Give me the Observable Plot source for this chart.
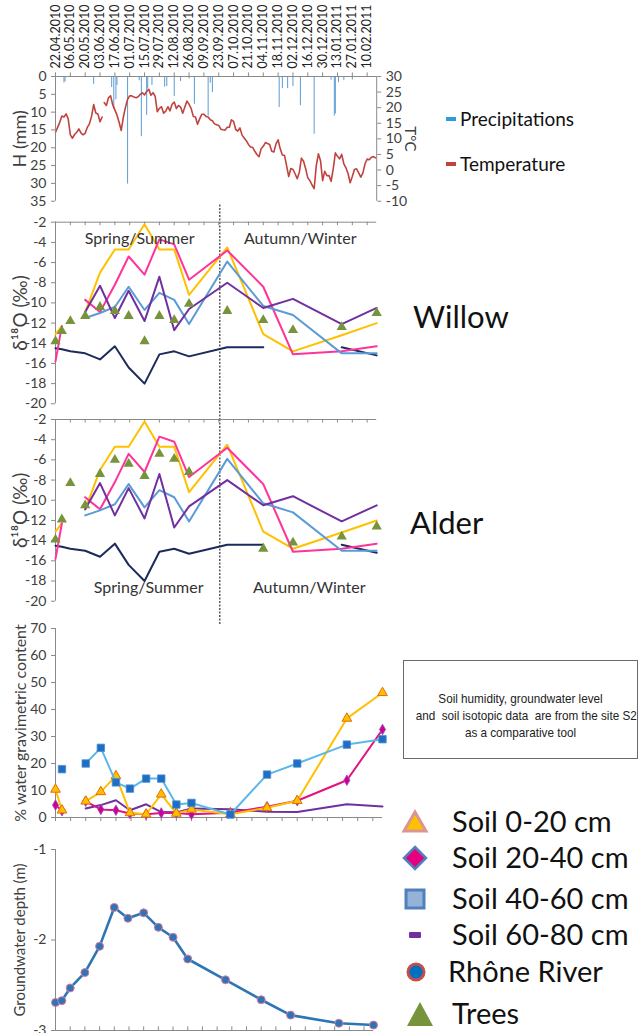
<!DOCTYPE html>
<html><head><meta charset="utf-8">
<script src="https://cdn.jsdelivr.net/npm/d3@7"></script>
<script src="https://cdn.jsdelivr.net/npm/@observablehq/plot@0.6"></script>
<style>
html,body{margin:0;padding:0;background:#fff;}
#wrap{position:relative;width:644px;height:1033px;overflow:hidden;background:#fff;font-family:Lato,"Open Sans",sans-serif;color:#111;}
#wrap > svg{position:absolute;left:0;margin:0;}
.lab{position:absolute;white-space:nowrap;line-height:1;}
.box{position:absolute;border:1px solid #6a6a6a;box-sizing:border-box;text-align:center;
  font-family:"Liberation Sans",Arial,sans-serif;font-size:13px;line-height:17px;color:#222;}
.box span{display:block;white-space:pre;transform:scaleX(0.9);transform-origin:50% 50%;}
</style></head><body><div id="wrap"></div>
<script>
// ---------------- DATA ----------------
const axisStart = "2010-04-22";
const axisEnd = "2011-02-19";
const tickLabels = ["22.04.2010","06.05.2010","20.05.2010","03.06.2010","17.06.2010","01.07.2010","15.07.2010",
  "29.07.2010","12.08.2010","26.08.2010","09.09.2010","23.09.2010","07.10.2010","21.10.2010","04.11.2010",
  "18.11.2010","02.12.2010","16.12.2010","30.12.2010","13.01.2011","27.01.2011","10.02.2011"];
const seasonDivide = "2010-09-24";
const seasonNames = ["Spring/Summer", "Autumn/Winter"];

// precipitation (days after 22.04.2010, mm)
const precipDay = [8,9,36,53,55,57,58,68,79,81,86,87,91,103,105,112,118,126,131,144,146,148,211,214,219,224,231,244,260,263,264,267,272,280];
const precipMm  = [1.8,1.5,2.2,3.1,9.2,6.5,2.5,30.2,1.2,16.9,10.9,3.5,2.5,3.0,2.8,5.6,1.4,0.7,7.8,11.1,1.9,4.5,8.7,3.4,3.4,2.8,8.2,16.2,1.0,11.1,10.5,1.7,1.1,1.0];

// temperature (°C), one value every 2 days, two recorded stretches
const tempStepDays = 2;
const tempStartA = "2010-04-22";
const tempA = [12.1,13.7,15.3,17.3,17.0,18.0,16.4,11.3,10.2,11.4,12.1,13.2,11.9,11.3,11.8,13.7,14.8,17.2,21.0,18.3,18.0,15.5,17.0];
const tempStartB = "2010-06-07";
const tempB = [21.6,20.7,23.2,23.8,20.9,19.3,17.6,15.3,12.7,17.0,20.1,22.7,23.8,23.8,23.4,23.2,23.5,24.3,24.8,24.1,
  25.2,25.9,24.0,24.8,23.7,18.7,19.8,20.3,18.2,18.9,20.3,19.0,21.1,21.8,19.7,20.7,20.2,18.2,20.2,22.1,
  21.1,19.7,17.2,17.0,14.7,16.4,17.9,17.9,17.2,17.0,16.1,15.8,14.8,14.5,14.3,13.1,12.9,12.8,13.7,13.7,
  16.1,15.6,13.0,12.5,13.5,11.2,10.3,9.4,8.2,7.4,7.3,6.0,5.0,4.3,6.8,7.6,8.8,8.5,8.2,6.0,
  5.8,8.4,9.7,6.8,4.8,4.7,1.4,-2.1,0.5,0.2,-1.2,-2.8,-0.7,3.8,2.8,0.4,-2.5,-3.4,-4.8,-6.0,
  1.4,5.2,3.0,-3.4,-0.4,-1.8,-1.8,-3.6,0.4,5.5,4.4,3.6,5.0,2.0,0.7,-1.2,-4.1,-2.1,0.2,0.4,
  -0.9,-2.3,-0.9,2.0,3.5,3.3,4.1,4.3,3.9];

// sampling campaigns
const sampleDates = ["2010-04-22","2010-04-28","2010-05-06","2010-05-20","2010-06-03","2010-06-17","2010-06-30","2010-07-15",
  "2010-07-29","2010-08-12","2010-08-26","2010-10-01","2010-11-04","2010-12-02","2011-01-17","2011-02-19"];
// δ18O (‰)
const willowTrees = [-13.8,-12.8,-11.8,-11.3,-10.4,-10.8,-11.3,-13.8,-11.3,-11.7,-10.1,-10.8,-11.7,-12.7,-12.4,-11.0];
const alderTrees  = [-13.9,-11.9,-8.3,-10.5,-7.4,-6.0,-6.4,-7.6,-5.4,-5.9,-7.2,null,-14.8,-14.2,-13.6,-12.6];
const iso0_20  = [-13.1,-12.3,null,-10.9,-7.0,-4.7,-4.7,-2.2,-4.7,-4.7,-9.2,-4.5,-13.1,-14.8,-13.2,-12.0];
const iso20_40 = [-15.8,-12.3,null,-9.7,-10.9,-8.2,-5.4,-7.2,-3.7,-4.2,-7.7,-4.8,-8.4,-15.1,-14.8,-14.3];
const iso40_60 = [null,null,null,-11.5,-11.0,-10.4,-8.4,-10.7,-9.0,-9.7,-12.1,-5.9,-10.3,-11.2,-15.0,-15.0];
const iso60_80 = [null,null,null,-10.9,-8.3,-11.5,-8.8,-11.8,-7.4,-12.7,-10.6,-8.0,-10.5,-9.6,-12.1,-10.5];
const isoRhone = [-14.5,-14.6,-14.8,-15.0,-15.6,-14.3,-16.4,-18.0,-15.1,-14.8,-15.3,-14.4,-14.4,null,-14.4,-15.2];
// % water gravimetric content
const water0_20  = [10.4,2.7,null,6.0,9.5,15.4,1.7,1.2,8.6,1.5,3.0,1.2,3.6,6.2,36.7,46.2];
const water20_40 = [4.6,2.5,null,6.0,3.0,2.7,1.5,1.2,1.7,1.7,1.2,1.8,4.0,6.2,13.8,32.6];
const water40_60 = [null,17.9,null,20.0,25.8,13.0,10.7,14.4,14.4,4.8,5.4,1.1,15.9,20.0,27.0,29.0];
const water60_80 = [null,null,null,3.3,4.6,6.4,2.7,4.9,2.0,1.9,3.3,3.1,2.1,2.0,4.9,4.1];
// groundwater depth (m)
const groundwater = [-2.69,-2.67,-2.53,-2.36,-2.07,-1.64,-1.76,-1.70,-1.86,-1.97,-2.21,-2.44,-2.66,-2.83,-2.92,-2.94];

const legendLabels = ["Soil 0-20 cm","Soil 20-40 cm","Soil 40-60 cm","Soil 60-80 cm","Rhône River","Trees"];
const topLegendLabels = ["Precipitations","Temperature"];
const noteLines = ["Soil humidity, groundwater level","and  soil isotopic data  are from the site S2","as a comparative tool"];
const speciesLabels = ["Willow","Alder"];

// ---------------- BUILD ----------------
const parseISO = d3.utcParse("%Y-%m-%d");
const parseTick = d3.utcParse("%d.%m.%Y");
const fmtTick = d3.utcFormat("%d.%m.%Y");
const t0 = parseISO(axisStart), t1 = parseISO(axisEnd);
const ticks = tickLabels.map(parseTick);
const sDates = sampleDates.map(parseISO);
const divide = parseISO(seasonDivide);
const mid = (a, b) => new Date((+a + +b) / 2);
const tScale = d3.scaleLinear().domain([-10, 30]).range([35, 0]);

const precip = precipDay.map((d, i) => ({date: d3.utcDay.offset(t0, d), mm: precipMm[i]}));
const temp = [
  ...tempA.map((v, i) => ({date: d3.utcDay.offset(parseISO(tempStartA), i * tempStepDays), mm: tScale(v), seg: "a"})),
  ...tempB.map((v, i) => ({date: d3.utcDay.offset(parseISO(tempStartB), i * tempStepDays), mm: tScale(v), seg: "b"}))
];

const AX = "#8a8a8a", TXT = "#404040";
const wrap = document.getElementById("wrap");
function place(svg, top) { svg.style.top = top + "px"; wrap.appendChild(svg); }
const common = (h, mt, mb, xEnd) => ({
  width: 400, height: h, marginLeft: 55, marginRight: 400 - xEnd, marginTop: mt, marginBottom: mb,
  style: {background: "transparent", fontFamily: "Lato, sans-serif", fontSize: "13px", color: TXT, overflow: "visible"}
});
const xOpt = {type: "utc", domain: [t0, t1], axis: null};
const plain = d => String(d);
const yAxis = (vals, extra = {}) => Plot.axisY(vals, {anchor: "left", tickSize: 4, tickFormat: plain, stroke: AX, fill: TXT, label: null, fontSize: 14, ...extra});
const ylab = (t, size) => Plot.text([t], {text: d => d, frameAnchor: "left", dx: -35, rotate: -90, textAnchor: "middle", fontSize: size, fill: TXT});
const sline = (vals, color, w = 2) => Plot.line(vals, {x: (d, i) => sDates[i], y: d => d, stroke: color, strokeWidth: w});

// Panel 1: precipitation & temperature
place(Plot.plot({
  ...common(212, 76, 11.3, 376.2),
  x: xOpt,
  y: {domain: [0, 35], reverse: true},
  marks: [
    Plot.ruleX(precip, {x: "date", y1: 0, y2: "mm", stroke: "#5b9bd5", strokeWidth: 1}),
    Plot.line(temp, {x: "date", y: "mm", z: "seg", stroke: "#c0433f", strokeWidth: 1.6}),
    Plot.ruleY([0], {stroke: AX}),
    Plot.ruleX(ticks, {x: d => d, y1: 0, y2: -1, stroke: AX}),
    Plot.ruleX([t0], {stroke: AX}),
    Plot.ruleX([t1], {stroke: AX}),
    yAxis(d3.range(0, 36, 5)),
    Plot.axisY(d3.range(-10, 31, 5).map(tScale), {anchor: "right", tickSize: 4, tickFormat: d => String(Math.round(tScale.invert(d))), stroke: AX, fill: TXT, label: null, fontSize: 14}),
    Plot.text(ticks, {x: d => d, text: d => fmtTick(d), frameAnchor: "top", dy: -8, rotate: -90, textAnchor: "start", lineAnchor: "middle", fontSize: 12.5, fill: "#222"}),
    ylab("H (mm)", 18),
    Plot.text(["T°C"], {text: d => d, frameAnchor: "right", dx: 33, rotate: 90, textAnchor: "middle", fontSize: 15, fill: TXT})
  ]
}), 0);

// Panels 2 & 3: δ18O
function isoPanel(trees, h, mt, mb, r1, r2, seasonAnchor, seasonDy, seasonDx) {
  return Plot.plot({
    ...common(h, mt, mb, 376.2),
    x: xOpt,
    y: {domain: [-20, -2]},
    marks: [
      Plot.ruleX([divide], {y1: r1, y2: r2, stroke: "#333", strokeWidth: 1.2, strokeDasharray: "2,1.5"}),
      Plot.ruleY([-2], {stroke: AX}),
      Plot.ruleX(ticks, {x: d => d, y1: -2, y2: -2.35, stroke: AX}),
      Plot.ruleX([t0], {stroke: AX}),
      yAxis(d3.range(-20, -1, 2)),
      sline(isoRhone, "#1c2a5c"),
      sline(iso0_20, "#ffc000"),
      sline(iso20_40, "#ff3399"),
      sline(iso40_60, "#5b9bd5"),
      sline(iso60_80, "#7030a0"),
      Plot.dot(trees, {x: (d, i) => sDates[i], y: d => d, symbol: "triangle", r: 3.8, fill: "#77933c"}),
      Plot.text(seasonNames, {x: (d, i) => i === 0 ? mid(t0, divide) : mid(divide, t1), text: d => d,
        frameAnchor: seasonAnchor, textAnchor: "middle", dy: seasonDy, dx: seasonDx, fontSize: 16, fill: "#333"}),
      ylab("δ¹⁸O (‰)", 19)
    ]
  });
}
place(isoPanel(willowTrees, 206, 16.7, 7.7, -0.3, -21.6, "top", 10, 2), 205);
place(isoPanel(alderTrees, 222, 14, 26.3, -2, -22.4, "bottom", -8, 11), 405);

// Panel 4: soil water content
place(Plot.plot({
  ...common(215, 13, 13, 382),
  x: xOpt,
  y: {domain: [0, 70]},
  marks: [
    Plot.ruleY([0], {stroke: AX}),
    Plot.ruleX(ticks, {x: d => d, y1: 0, y2: -1.5, stroke: AX}),
    Plot.ruleX([t0], {stroke: AX}),
    yAxis(d3.range(0, 71, 10)),
    sline(water60_80, "#7030a0"),
    sline(water20_40, "#e2127f"),
    Plot.dot(water20_40, {x: (d, i) => sDates[i], y: d => d, symbol: "diamond", r: 3.2, fill: "#cc0099", stroke: "#9b4fb0", strokeWidth: 0.8}),
    sline(water0_20, "#ffc000"),
    Plot.dot(water0_20, {x: (d, i) => sDates[i], y: d => d, symbol: "triangle", r: 3.6, fill: "#ffc000", stroke: "#e46c0a", strokeWidth: 1}),
    sline(water40_60, "#5bb8e8"),
    Plot.dot(water40_60, {x: (d, i) => sDates[i], y: d => d, symbol: "square", r: 4.2, fill: "#1f6ec4", stroke: "#4a90d0", strokeWidth: 0.8}),
    ylab("% water gravimetric content", 16)
  ]
}), 615);

// Panel 5: groundwater
place(Plot.plot({
  ...common(198, 14, 3, 373),
  x: xOpt,
  y: {domain: [-3, -1]},
  marks: [
    Plot.ruleY([-3], {stroke: AX}),
    Plot.ruleX(ticks, {x: d => d, y1: -3, y2: -2.96, stroke: AX}),
    Plot.ruleX([t0], {stroke: AX}),
    yAxis([-3, -2, -1]),
    sline(groundwater, "#2e75b6", 2.6),
    Plot.dot(groundwater, {x: (d, i) => sDates[i], y: d => d, r: 4, fill: "#2e75b6", stroke: "#e07aa0", strokeWidth: 1}),
    ylab("Groundwater depth (m)", 15)
  ]
}), 835);

// ---------------- HTML annotations ----------------
function addLabel(text, left, centerY, size, color = "#111") {
  const d = document.createElement("div");
  d.className = "lab";
  d.textContent = text;
  d.style.left = left + "px";
  d.style.top = (centerY - size * 0.55) + "px";
  d.style.fontSize = size + "px";
  d.style.color = color;
  wrap.appendChild(d);
}
function addSym(svgInner, cx, cy, size = 30) {
  const ns = "http://www.w3.org/2000/svg";
  const s = document.createElementNS(ns, "svg");
  s.setAttribute("width", size); s.setAttribute("height", size);
  s.setAttribute("viewBox", "0 0 30 30");
  s.style.position = "absolute"; s.style.left = (cx - size / 2) + "px"; s.style.top = (cy - size / 2) + "px";
  s.innerHTML = svgInner;
  wrap.appendChild(s);
}

// top legend
const topLegColors = ["#2e9be0", "#c0433f"];
const topLegY = [119, 164];
topLegendLabels.forEach((t, i) => {
  addSym(`<rect x="10" y="13" width="10" height="4" fill="${topLegColors[i]}"/>`, 451, topLegY[i]);
  addLabel(t, 460, topLegY[i], 19);
});

// species labels
addLabel(speciesLabels[0], 413, 318, 31);
addLabel(speciesLabels[1], 410, 524, 31);

// note box
const box = document.createElement("div");
box.className = "box";
box.style.left = "403px"; box.style.top = "660px"; box.style.width = "235px"; box.style.height = "99px";
box.style.paddingTop = "29px";
noteLines.forEach(l => {
  const s = document.createElement("span");
  s.textContent = l;
  box.appendChild(s);
});
wrap.appendChild(box);

// bottom legend
const legSyms = [
  `<polygon points="15,5 26,24 4,24" fill="#ffc000" stroke="#d99694" stroke-width="3" stroke-linejoin="miter"/>`,
  `<polygon points="15,4 26,15 15,26 4,15" fill="#e6007e" stroke="#4f81bd" stroke-width="2.5"/>`,
  `<rect x="6" y="6" width="18" height="18" fill="#95b3d7" stroke="#4f81bd" stroke-width="3"/>`,
  `<rect x="9" y="12" width="12" height="6" rx="1" fill="#7030a0"/>`,
  `<circle cx="15" cy="15" r="8" fill="#0070c0" stroke="#c0504d" stroke-width="3"/>`,
  `<polygon points="15,3 28,27 2,27" fill="#77933c"/>`
];
const legY = [822, 858, 899, 935, 972, 1014];
const legX = [415, 415, 415, 415, 416, 420];
legendLabels.forEach((t, i) => {
  addSym(legSyms[i], legX[i], legY[i]);
  addLabel(t, i === 4 ? 448 : 452, legY[i], 29);
});
</script></body></html>
